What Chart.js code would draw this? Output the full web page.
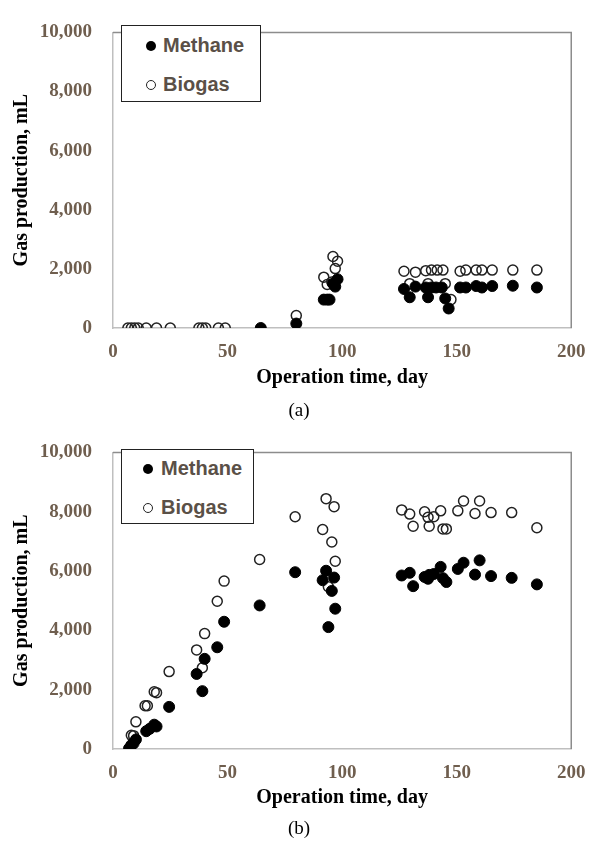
<!DOCTYPE html>
<html>
<head>
<meta charset="utf-8">
<script src="https://cdn.jsdelivr.net/npm/chart.js@4.4.0/dist/chart.umd.min.js"></script>
<style>
  body { margin: 0; background: #fff; width: 598px; height: 843px; position: relative; overflow: hidden; }
  canvas { position: absolute; left: 0; }
  .legend { position: absolute; border: 1.5px solid #222; box-sizing: border-box; background: #fff;
            font-family: "Liberation Sans", Arial, sans-serif; font-weight: bold; font-size: 20px; color: #5a5047; }
  .row { position: absolute; line-height: 24px; white-space: nowrap; }
  .dot { display: inline-block; width: 10px; height: 10px; border-radius: 50%; box-sizing: border-box; vertical-align: 1px; }
  .fill { background: #000; }
  .open { border: 1.5px solid #222; }
  .cap { position: absolute; left: 0; width: 598px; text-align: center; line-height: 24px;
         font-family: "Liberation Serif", "Times New Roman", serif; font-size: 19px; }
</style>
</head>
<body>
<canvas id="chartA" width="598" height="400" style="top:0"></canvas>
<canvas id="chartB" width="598" height="400" style="top:420px"></canvas>

<div class="legend" style="left:121px;top:25px;width:140px;height:77px">
  <div class="row" style="left:24px;top:7px"><span class="dot fill" style="margin-right:7px"></span>Methane</div>
  <div class="row" style="left:24px;top:46px"><span class="dot open" style="margin-right:7px"></span>Biogas</div>
</div>
<div class="cap" style="top:398px">(a)</div>

<div class="legend" style="left:121px;top:449px;width:133px;height:75px">
  <div class="row" style="left:21px;top:5.5px"><span class="dot fill" style="margin-right:8px"></span>Methane</div>
  <div class="row" style="left:21px;top:44.5px"><span class="dot open" style="margin-right:8px"></span>Biogas</div>
</div>
<div class="cap" style="top:816px">(b)</div>

<script>
// (a)
var methaneDaysA = [64.5, 80, 92, 93.5, 94.5, 96, 97, 98, 127, 129.5, 132, 136.5, 137.5, 139, 141, 143.5, 145, 146.5, 151.5, 154, 158.5, 161, 165.5, 174.5, 185];
var methaneA = [0, 150, 960, 960, 960, 1500, 1400, 1650, 1320, 1040, 1400, 1370, 1040, 1370, 1370, 1370, 1000, 660, 1370, 1370, 1420, 1370, 1420, 1430, 1370];
var biogasDaysA = [6.5, 8, 9.5, 11, 14.5, 19, 25, 37.5, 39, 40.5, 46, 49, 80, 92, 93.5, 95.5, 96, 97, 98, 127, 129.5, 132, 136.5, 137.5, 139, 141.5, 144, 145, 147.5, 151.5, 154, 158.5, 161, 165.5, 174.5, 185];
var biogasA = [0, 0, 0, 0, 0, 0, 0, 0, 0, 0, 0, 0, 420, 1720, 1470, 1560, 2420, 2010, 2260, 1920, 1500, 1890, 1940, 1500, 1960, 1960, 1960, 1500, 960, 1920, 1960, 1960, 1960, 1960, 1960, 1960];

// (b)
var methaneDaysB = [7, 8, 9, 10, 14.5, 16, 18, 19, 24.5, 36.5, 39, 40, 45.5, 48.5, 64, 79.5, 91.5, 93, 94, 95.5, 96.5, 97, 126, 129.5, 131, 136, 137.5, 138, 140, 143, 144, 145.5, 150.5, 153, 158, 160, 165, 174, 185];
var methaneB = [20, 130, 190, 320, 600, 680, 820, 760, 1420, 2530, 1950, 3040, 3430, 4290, 4840, 5960, 5690, 6010, 4110, 5330, 5780, 4730, 5850, 5940, 5490, 5800, 5740, 5870, 5900, 6140, 5760, 5630, 6070, 6280, 5880, 6360, 5830, 5770, 5550];
var biogasDaysB = [8, 9, 10, 14, 15, 18, 19, 24.5, 36.5, 39, 40, 45.5, 48.5, 64, 79.5, 91.5, 93, 94, 95.5, 96.5, 97, 126, 129.5, 131, 136, 137.5, 138, 140, 143, 144, 145.5, 150.5, 153, 158, 160, 165, 174, 185];
var biogasB = [460, 450, 915, 1460, 1460, 1930, 1900, 2610, 3340, 2740, 3890, 4980, 5660, 6390, 7830, 7400, 8440, 5470, 6980, 8170, 6330, 8060, 7920, 7510, 8000, 7810, 7510, 7830, 8030, 7420, 7420, 8030, 8360, 7940, 8360, 7970, 7970, 7460];

var xTicks = [0, 50, 100, 150, 200];
var yTicks = [0, 2000, 4000, 6000, 8000, 10000];

function toPoints(days, vals) {
	var pts = [];
	for (var i = 0; i < days.length; i++) pts.push({x: days[i], y: vals[i]});
	return pts;
}

// gray box round the plot area (top and right, axes draw the other two)
var frame = {
	id: 'frame',
	beforeDatasetsDraw: function(chart) {
		var ctx = chart.ctx, a = chart.chartArea;
		ctx.save();
		ctx.strokeStyle = '#8c8c8c';
		ctx.lineWidth = 1.5;
		ctx.beginPath();
		ctx.moveTo(a.left, a.top);
		ctx.lineTo(a.right, a.top);
		ctx.lineTo(a.right, a.bottom);
		ctx.stroke();
		ctx.restore();
	}
};

var tickFont = {family: "'Liberation Serif', 'Times New Roman', serif", size: 19, weight: 'bold'};
var titleFont = {family: "'Liberation Serif', 'Times New Roman', serif", size: 20, weight: 'bold'};

function makeChart(id, mDays, mVals, bDays, bVals, padTop, xHeight) {
	var ctx = document.getElementById(id).getContext('2d');
	return new Chart(ctx, {
		type: 'scatter',
		data: {
			datasets: [{
				label: 'Methane',
				data: toPoints(mDays, mVals),
				backgroundColor: '#000',
				borderColor: '#000',
				borderWidth: 1,
				pointRadius: 5.5
			}, {
				label: 'Biogas',
				data: toPoints(bDays, bVals),
				backgroundColor: 'rgba(0,0,0,0)',
				borderColor: '#222',
				borderWidth: 1.5,
				pointRadius: 5
			}]
		},
		options: {
			responsive: false,
			animation: false,
			devicePixelRatio: 1,
			layout: { padding: {top: padTop, right: 21, left: 0, bottom: 0} },
			plugins: {
				legend: { display: false },
				tooltip: { enabled: false }
			},
			scales: {
				x: {
					type: 'linear',
					min: 0, max: 200,
					afterBuildTicks: function(s) { s.ticks = xTicks.map(function(v) { return {value: v}; }); },
					afterFit: function(s) { s.height = xHeight; },
					grid: { display: false, drawTicks: false },
					border: { display: true, color: '#bfbfbf', width: 1.5 },
					ticks: { padding: 12.5, color: '#6f5e4e', font: tickFont, maxRotation: 0 },
					title: { display: true, text: 'Operation time, day', color: '#000', font: titleFont, padding: {top: 0, bottom: 10} }
				},
				y: {
					min: 0, max: 10000,
					afterBuildTicks: function(s) { s.ticks = yTicks.map(function(v) { return {value: v}; }); },
					afterFit: function(s) { s.width = 113; },
					grid: { display: false, drawTicks: false },
					border: { display: true, color: '#bfbfbf', width: 1.5 },
					ticks: {
						padding: 21, color: '#6f5e4e', font: tickFont,
						callback: function(v) { return v.toLocaleString('en-US'); }
					},
					title: { display: true, text: 'Gas production, mL', color: '#000', font: titleFont, padding: {top: 10, bottom: 0} }
				}
			}
		},
		plugins: [frame]
	});
}

makeChart('chartA', methaneDaysA, methaneA, biogasDaysA, biogasA, 20, 72);
makeChart('chartB', methaneDaysB, methaneB, biogasDaysB, biogasB, 23, 71);
</script>
</body>
</html>
